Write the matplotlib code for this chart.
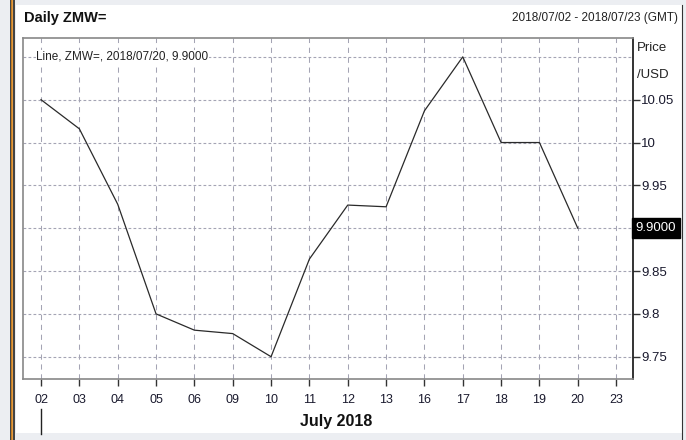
import matplotlib
matplotlib.use("Agg")
import matplotlib.pyplot as plt
from matplotlib.patches import Rectangle
from matplotlib.lines import Line2D

plt.rcParams['font.family'] = ['Liberation Sans', 'DejaVu Sans']

days = ["02", "03", "04", "05", "06", "09", "10", "11", "12", "13", "16", "17", "18", "19", "20", "23"]
prices = [10.05, 10.016, 9.928, 9.80, 9.781, 9.777, 9.75, 9.864, 9.927, 9.925, 10.037, 10.10, 10.0, 10.0, 9.90]
yticks = [9.75, 9.80, 9.85, 9.90, 9.95, 10.0, 10.05]
ytick_labels = ["9.75", "9.8", "9.85", "", "9.95", "10", "10.05"]
title = "Daily ZMW="
date_range = "2018/07/02 - 2018/07/23 (GMT)"
legend_text = "Line, ZMW=, 2018/07/20, 9.9000"
last_label = "9.9000"
month_label = "July 2018"

W, H = 686, 440
fig = plt.figure(figsize=(W / 100, H / 100), dpi=100)
fig.patch.set_facecolor("#eceef2")

def fx(px):
    return px / W

def fy(py):
    return 1 - py / H

# white panel
fig.patches.append(Rectangle((fx(16), fy(433)), fx(666), (433 - 5) / H,
                             transform=fig.transFigure, facecolor="white", edgecolor="none", zorder=0))
# left borders
for xp, c, lw in [(10.5, "#222222", 1.2), (12.3, "#e08a1e", 1.2), (14.0, "#222222", 1.2)]:
    fig.add_artist(Line2D([fx(xp), fx(xp)], [0, 1], transform=fig.transFigure, color=c, lw=lw))
# right border
fig.add_artist(Line2D([fx(682), fx(682)], [fy(440), fy(5)], transform=fig.transFigure, color="#333333", lw=0.8))

ax = fig.add_axes([fx(23), fy(379), fx(633 - 23), (379 - 38) / H], zorder=5)
ax.set_facecolor("white")
x = list(range(len(prices)))
ax.plot(x, prices, color="#2a2a2a", lw=0.9, zorder=3)

ax.set_xlim(-0.47, 15.44)
ax.set_ylim(9.724, 10.122)

ax.set_xticks(range(len(days)))
ax.set_xticklabels(days, fontsize=9, color="#1a1a2e")
ax.yaxis.tick_right()
ax.set_yticks(yticks)
ax.set_yticklabels(ytick_labels, fontsize=9.5, color="#1a1a2e")
ax.tick_params(axis="x", length=5, width=1, color="#333333", pad=6)
ax.tick_params(axis="y", length=5, width=1, color="#333333", pad=1)

# grid
for xi in x + [15]:
    ax.axvline(xi, color="#a4a4b4", lw=0.75, dashes=(5, 4.5), zorder=1)
for yv in yticks + [10.10]:
    ax.axhline(yv, color="#a4a4b4", lw=0.8, dashes=(2.5, 2), zorder=1)

for side in ["left", "top", "bottom"]:
    ax.spines[side].set_color("#888888")
    ax.spines[side].set_linewidth(1.2)
ax.spines["right"].set_color("#111111")
ax.spines["right"].set_linewidth(1.2)

# legend text
ax.text(0.022, 0.945, legend_text, transform=ax.transAxes, fontsize=8.5, color="#222222",
        va="center", ha="left", zorder=4,
        bbox=dict(facecolor="white", edgecolor="none", pad=0.5))

# last value box
ax.text(1.0045, prices[-1], last_label, transform=ax.get_yaxis_transform(), fontsize=9.5,
        color="white", va="center", ha="left", zorder=5, clip_on=False,
        bbox=dict(facecolor="black", edgecolor="black", boxstyle="square,pad=0.32"))

# header texts
fig.text(fx(24), fy(18), title, fontsize=10.5, fontweight="bold", color="#111111", va="center", ha="left")
fig.text(fx(678), fy(18), date_range, fontsize=8.5, color="#222222", va="center", ha="right")
fig.text(fx(637), fy(48), "Price", fontsize=9.5, color="#222222", va="center", ha="left")
fig.text(fx(637), fy(75), "/USD", fontsize=9.5, color="#222222", va="center", ha="left")

# month label and separator
fig.text(fx(336), fy(421), month_label, fontsize=11.5, fontweight="bold", color="#111111", va="center", ha="center")
fig.add_artist(Line2D([fx(41), fx(41)], [fy(434), fy(409)], transform=fig.transFigure, color="#222222", lw=1))

# bottom grey band
fig.patches.append(Rectangle((0, 0), 1, 7 / H, transform=fig.transFigure,
                             facecolor="#eceef2", edgecolor="none", zorder=0))

fig.savefig("out.png", dpi=100, facecolor=fig.get_facecolor())
